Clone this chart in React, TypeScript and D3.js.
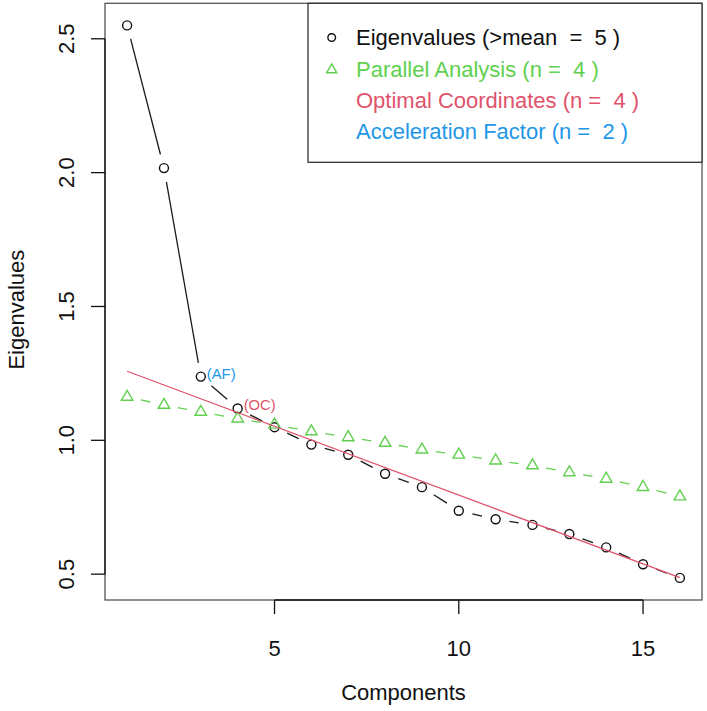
import React from "react";
import * as d3 from "d3";

// Scree data: observed eigenvalues and parallel-analysis eigenvalues per component
const components = [1, 2, 3, 4, 5, 6, 7, 8, 9, 10, 11, 12, 13, 14, 15, 16];
const eigenvalues = [2.55, 2.017, 1.238, 1.119, 1.049, 0.984, 0.946, 0.875, 0.825, 0.737, 0.705, 0.684, 0.65, 0.6, 0.537, 0.486];
const parallelValues = [1.162, 1.132, 1.106, 1.081, 1.058, 1.033, 1.011, 0.99, 0.965, 0.946, 0.924, 0.906, 0.88, 0.856, 0.825, 0.79];

// Optimal-coordinates regression line, given at its two end components
const ocLineComponents = [1, 16];
const ocLineValues = [1.258, 0.487];

const xTicks = [5, 10, 15];
const yTicks = [0.5, 1.0, 1.5, 2.0, 2.5];

const legendLabels = [
  "Eigenvalues (>mean  =  5 )",
  "Parallel Analysis (n =  4 )",
  "Optimal Coordinates (n =  4 )",
  "Acceleration Factor (n =  2 )",
];

const nAF = 2; // acceleration factor
const nOC = 4; // optimal coordinates

const W = 707;
const H = 711;
const plot = { left: 105, right: 702, top: 3.3, bottom: 600 };

const GREEN = "#61D04F";
const RED = "#DF536B";
const BLUE = "#2297E6";
const FONT = "'Liberation Sans', Arial, Helvetica, sans-serif";

// R-style 4% axis expansion
function padded(lo: number, hi: number): [number, number] {
  const p = (hi - lo) * 0.04;
  return [lo - p, hi + p];
}

const x = d3
  .scaleLinear()
  .domain(padded(d3.min(components)!, d3.max(components)!))
  .range([plot.left, plot.right]);
const [eMin, eMax] = d3.extent(eigenvalues) as [number, number];
const y = d3.scaleLinear().domain(padded(eMin, eMax)).range([plot.bottom, plot.top]);

const GAP = 14; // type = "b": segments stop short of each point
const R = 4.5; // symbol radius

function brokenSegments(xs: number[], ys: number[]) {
  const segs: [number, number, number, number][] = [];
  for (let i = 0; i < xs.length - 1; i++) {
    const x0 = x(xs[i]);
    const y0 = y(ys[i]);
    const x1 = x(xs[i + 1]);
    const y1 = y(ys[i + 1]);
    const d = Math.hypot(x1 - x0, y1 - y0);
    if (d <= 2 * GAP) continue;
    const ux = (x1 - x0) / d;
    const uy = (y1 - y0) / d;
    segs.push([x0 + ux * GAP, y0 + uy * GAP, x1 - ux * GAP, y1 - uy * GAP]);
  }
  return segs;
}

function trianglePath(cx: number, cy: number, r: number) {
  const t0 = 1.555 * r;
  const t1 = 1.347 * r;
  const t2 = 0.778 * r;
  return `M${cx},${cy - t0}L${cx + t1},${cy + t2}L${cx - t1},${cy + t2}Z`;
}

export default function App() {
  const eigSegs = brokenSegments(components, eigenvalues);
  const parSegs = brokenSegments(components, parallelValues);
  const ocLine = d3
    .line<number>()
    .x((_, i) => x(ocLineComponents[i]))
    .y((v) => y(v));

  const legendX = 308;
  const legendY0 = 37.5;
  const legendStep = 31.3;
  const legendColors = ["#111", GREEN, RED, BLUE];

  const midX = (plot.left + plot.right) / 2;
  const midY = (plot.top + plot.bottom) / 2;

  return (
    <svg
      width={W}
      height={H}
      style={{ position: "absolute", left: 0, top: 0, background: "#fff" }}
      fontFamily={FONT}
    >
      <rect x={0} y={0} width={W} height={H} fill="#fff" />

      {/* eigenvalues */}
      <g stroke="#1a1a1a" strokeWidth={1.3}>
        {eigSegs.map((s, i) => (
          <line key={i} x1={s[0]} y1={s[1]} x2={s[2]} y2={s[3]} />
        ))}
      </g>
      <g fill="none" stroke="#111" strokeWidth={1.4}>
        {components.map((c, i) => (
          <circle key={i} cx={x(c)} cy={y(eigenvalues[i])} r={R} />
        ))}
      </g>

      {/* parallel analysis */}
      <g stroke={GREEN} strokeWidth={1.3}>
        {parSegs.map((s, i) => (
          <line key={i} x1={s[0]} y1={s[1]} x2={s[2]} y2={s[3]} />
        ))}
      </g>
      <g fill="none" stroke={GREEN} strokeWidth={1.4}>
        {components.map((c, i) => (
          <path key={i} d={trianglePath(x(c), y(parallelValues[i]), R * 0.95)} />
        ))}
      </g>

      {/* optimal coordinates line */}
      <path d={ocLine(ocLineValues) || ""} fill="none" stroke={RED} strokeWidth={1.3} />

      {/* AF and OC annotations */}
      <text
        x={x(components[nAF]) + 6}
        y={y(eigenvalues[nAF]) - 2.5}
        dy="0.35em"
        fontSize={14.8}
        fill={BLUE}
      >
        (AF)
      </text>
      <text
        x={x(components[nOC - 1]) + 6}
        y={y(eigenvalues[nOC - 1]) - 4}
        dy="0.35em"
        fontSize={14.8}
        fill={RED}
      >
        (OC)
      </text>

      {/* plot box */}
      <rect
        x={plot.left}
        y={plot.top}
        width={plot.right - plot.left}
        height={plot.bottom - plot.top}
        fill="none"
        stroke="#555"
        strokeWidth={1.3}
      />

      {/* x axis */}
      <line
        x1={x(xTicks[0])}
        x2={x(xTicks[xTicks.length - 1])}
        y1={plot.bottom}
        y2={plot.bottom}
        stroke="#111"
        strokeWidth={1.3}
      />
      {xTicks.map((t) => (
        <g key={t}>
          <line x1={x(t)} x2={x(t)} y1={plot.bottom} y2={plot.bottom + 14} stroke="#111" strokeWidth={1.3} />
          <text x={x(t)} y={656} textAnchor="middle" fontSize={22} fill="#111">
            {t}
          </text>
        </g>
      ))}
      <text x={midX} y={700} textAnchor="middle" fontSize={22} fill="#111">
        Components
      </text>

      {/* y axis */}
      <line
        x1={plot.left}
        x2={plot.left}
        y1={y(yTicks[0])}
        y2={y(yTicks[yTicks.length - 1])}
        stroke="#111"
        strokeWidth={1.3}
      />
      {yTicks.map((t) => (
        <g key={t}>
          <line x1={plot.left - 14} x2={plot.left} y1={y(t)} y2={y(t)} stroke="#111" strokeWidth={1.3} />
          <text
            transform={`translate(74,${y(t)}) rotate(-90)`}
            textAnchor="middle"
            fontSize={22}
            fill="#111"
          >
            {d3.format(".1f")(t)}
          </text>
        </g>
      ))}
      <text
        transform={`translate(24,${midY + 8}) rotate(-90)`}
        textAnchor="middle"
        fontSize={22}
        fill="#111"
      >
        Eigenvalues
      </text>

      {/* legend */}
      <rect
        x={legendX}
        y={plot.top}
        width={plot.right - legendX}
        height={162.3 - plot.top}
        fill="#fff"
        stroke="#333"
        strokeWidth={1.3}
      />
      <circle cx={331.7} cy={legendY0} r={R * 0.85} fill="none" stroke="#111" strokeWidth={1.4} />
      <path
        d={trianglePath(331.7, legendY0 + legendStep + 1, R * 0.85)}
        fill="none"
        stroke={GREEN}
        strokeWidth={1.4}
      />
      {legendLabels.map((l, i) => (
        <text
          key={l}
          x={356}
          y={legendY0 + i * legendStep}
          dy="0.35em"
          fontSize={22}
          fill={legendColors[i]}
          style={{ whiteSpace: "pre" }}
        >
          {l}
        </text>
      ))}
    </svg>
  );
}
